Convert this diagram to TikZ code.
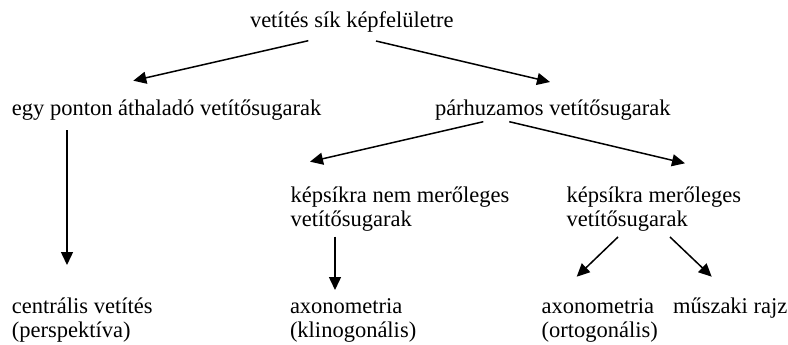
\documentclass[tikz,border=0pt]{standalone}
\usepackage{fontspec}
\setmainfont{Liberation Serif}
\usetikzlibrary{arrows.meta}
\begin{document}
\begin{tikzpicture}[x=1pt,y=-1pt,
  lbl/.style={anchor=base west,inner sep=0pt,outer sep=0pt,font=\fontsize{22.5}{24}\selectfont},
  arr/.style={line width=1.5pt,-{Triangle[length=13pt,width=12pt]}}]
\useasboundingbox[fill=white] (0,0) rectangle (788,345);
% nodes
\node[lbl] (top) at (250,28) {vetítés sík képfelületre};
\node[lbl] (egy) at (12,115) {egy ponton áthaladó vetítősugarak};
\node[lbl] (par) at (435,115) {párhuzamos vetítősugarak};
\node[lbl] (nem) at (290.7,202.7) {\begin{tabular}[t]{@{}l@{}}képsíkra nem merőleges\\vetítősugarak\end{tabular}};
\node[lbl] (mer) at (566.7,202.7) {\begin{tabular}[t]{@{}l@{}}képsíkra merőleges\\vetítősugarak\end{tabular}};
\node[lbl] (cen) at (12,313) {\begin{tabular}[t]{@{}l@{}}centrális vetítés\\(perspektíva)\end{tabular}};
\node[lbl] (kli) at (290,313) {\begin{tabular}[t]{@{}l@{}}axonometria\\(klinogonális)\end{tabular}};
\node[lbl] (ort) at (541.7,313) {\begin{tabular}[t]{@{}l@{}}axonometria\\(ortogonális)\end{tabular}};
\node[lbl] (mus) at (673,313) {műszaki rajz};
% connectors
\draw[arr] ([shift={(58.3,12.7)}]top.base west) -- ([shift={(121.3,-34.3)}]egy.base west);
\draw[arr] ([shift={(126,13)}]top.base west) -- ([shift={(115,-33)}]par.base west);
\draw[arr] ([shift={(48.3,6.7)}]par.base west) -- ([shift={(19.3,-41)}]nem.base west);
\draw[arr] ([shift={(74.3,6.7)}]par.base west) -- ([shift={(118.3,-39.4)}]mer.base west);
\draw[arr] ([shift={(55,15)}]egy.base west) -- ([shift={(55,-48)}]cen.base west);
\draw[arr] ([shift={(44.3,34)}]nem.base west) -- ([shift={(45,-23)}]kli.base west);
\draw[arr] ([shift={(51.3,34.3)}]mer.base west) -- ([shift={(35,-36.3)}]ort.base west);
\draw[arr] ([shift={(103.3,34.3)}]mer.base west) -- ([shift={(38.7,-36.3)}]mus.base west);
\end{tikzpicture}
\end{document}
